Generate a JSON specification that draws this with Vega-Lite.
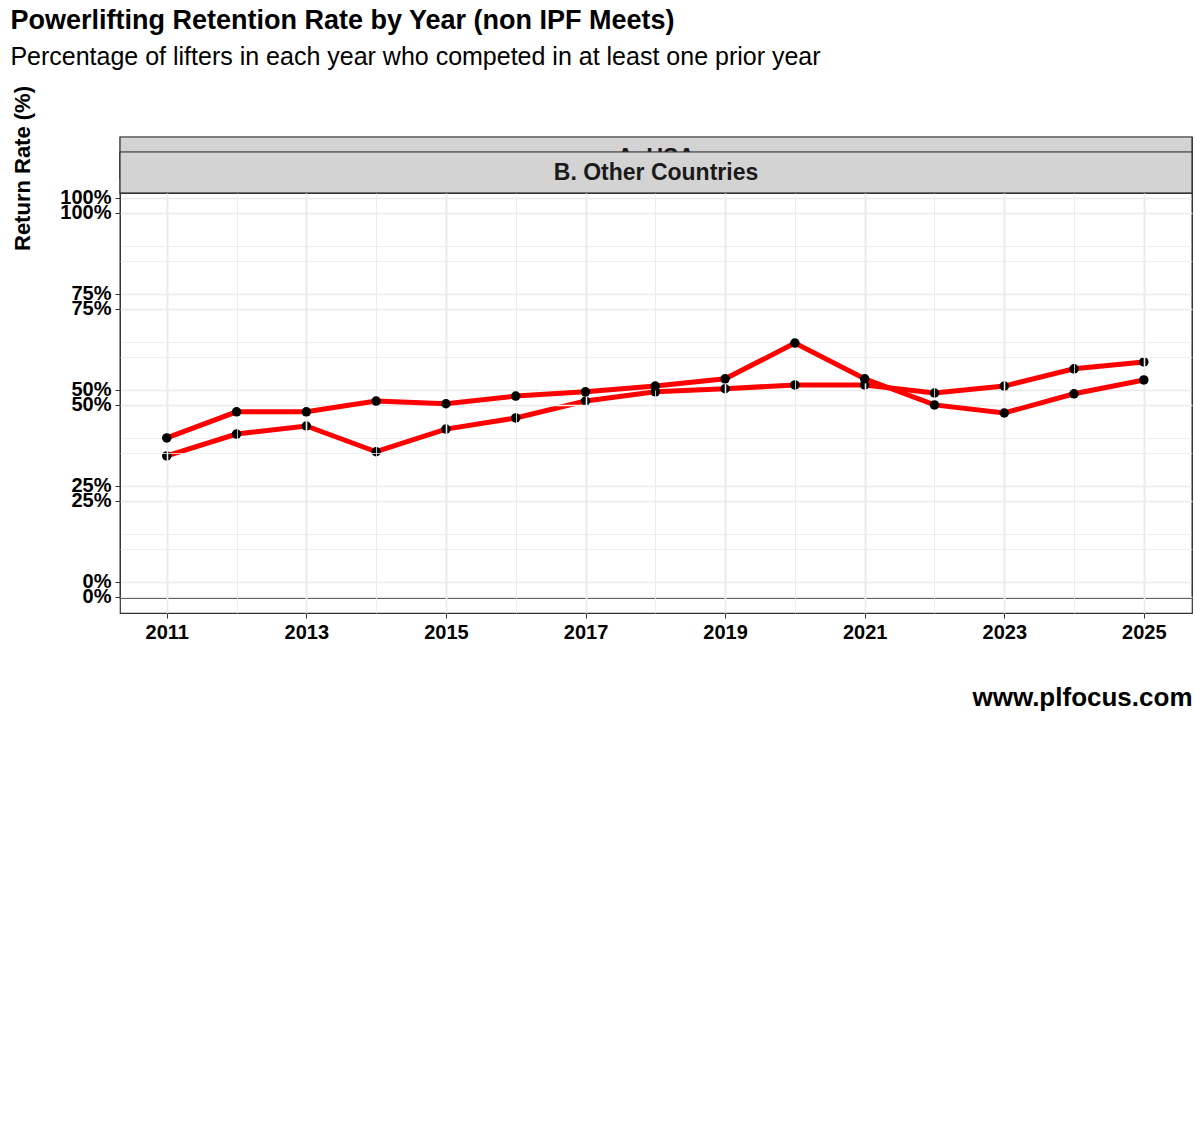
{
"$schema":"https://vega.github.io/schema/vega-lite/v6.json",
"padding":{"left":10,"top":6,"right":12,"bottom":5},
"background":"white",
"bounds":"flush",
"title":{"text":"Powerlifting Retention Rate by Year (non IPF Meets)","subtitle":"Percentage of lifters in each year who competed in at least one prior year","anchor":"start","font":"Liberation Sans","fontSize":27,"fontWeight":"bold","subtitleFont":"Liberation Sans","subtitleFontSize":25,"subtitleColor":"black","subtitlePadding":10,"offset":14},
"datasets":{
"d":[
{"country":"A. USA","year":2011,"rate":32.8},{"country":"A. USA","year":2012,"rate":38.5},{"country":"A. USA","year":2013,"rate":40.6},{"country":"A. USA","year":2014,"rate":33.9},{"country":"A. USA","year":2015,"rate":39.8},{"country":"A. USA","year":2016,"rate":42.7},{"country":"A. USA","year":2017,"rate":47.1},{"country":"A. USA","year":2018,"rate":49.5},{"country":"A. USA","year":2019,"rate":50.3},{"country":"A. USA","year":2020,"rate":51.3},{"country":"A. USA","year":2021,"rate":51.3},{"country":"A. USA","year":2022,"rate":49.2},{"country":"A. USA","year":2023,"rate":51.0},{"country":"A. USA","year":2024,"rate":55.5},{"country":"A. USA","year":2025,"rate":57.3},
{"country":"B. Other Countries","year":2011,"rate":41.4},{"country":"B. Other Countries","year":2012,"rate":48.2},{"country":"B. Other Countries","year":2013,"rate":48.2},{"country":"B. Other Countries","year":2014,"rate":51.0},{"country":"B. Other Countries","year":2015,"rate":50.3},{"country":"B. Other Countries","year":2016,"rate":52.3},{"country":"B. Other Countries","year":2017,"rate":53.4},{"country":"B. Other Countries","year":2018,"rate":54.9},{"country":"B. Other Countries","year":2019,"rate":56.8},{"country":"B. Other Countries","year":2020,"rate":66.1},{"country":"B. Other Countries","year":2021,"rate":56.8},{"country":"B. Other Countries","year":2022,"rate":50.0},{"country":"B. Other Countries","year":2023,"rate":47.9},{"country":"B. Other Countries","year":2024,"rate":52.9},{"country":"B. Other Countries","year":2025,"rate":56.5}
]},
"spacing":15,
"vconcat":[
{"spacing":0,"bounds":"flush","vconcat":[
 {"width":1072,"height":41,"data":{"values":[{"label":"A. USA"}]},
  "layer":[{"mark":{"type":"rect","fill":"#d3d3d3","stroke":"#333333","strokeWidth":1.2},"encoding":{"x":{"value":0},"x2":{"value":1072},"y":{"value":0},"y2":{"value":41}}},
  {"mark":{"type":"text","font":"Liberation Sans","fontSize":23,"fontWeight":"bold","color":"#1a1a1a"},"encoding":{"text":{"field":"label"},"x":{"value":536},"y":{"value":21}}}]},
 {"width":1072,"height":420,"data":{"name":"d"},"transform":[{"filter":"datum.country=='A. USA'"}],
  "layer":[{"mark":{"type":"line","color":"red","strokeWidth":5},"encoding":{}},{"mark":{"type":"circle","color":"black","opacity":1,"size":90},"encoding":{}}],
  "encoding":{
   "x":{"field":"year","type":"quantitative","scale":{"domain":[2010.33,2025.69],"nice":false,"zero":false},
     "axis":{"values":[2011,2012,2013,2014,2015,2016,2017,2018,2019,2020,2021,2022,2023,2024,2025],"labels":false,"ticks":false,"title":null,"domain":false,
       "gridColor":"#ebebeb","gridWidth":{"condition":{"test":"datum.value%2==1","value":1.6},"value":0.8}}},
   "y":{"field":"rate","type":"quantitative","scale":{"domain":[-4.2,105.2],"nice":false,"zero":false},
     "axis":{"values":[0,12.5,25,37.5,50,62.5,75,87.5,100],"title":null,"domain":false,
       "labelExpr":"datum.value%25==0?datum.value+'%':''","labelFont":"Liberation Sans","labelFontSize":20,"labelFontWeight":"bold","labelColor":"black","labelPadding":4,
       "tickColor":{"condition":{"test":"datum.value%25==0","value":"#333333"},"value":"transparent"},"tickSize":5,
       "gridColor":"#ebebeb","gridWidth":{"condition":{"test":"datum.value%25==0","value":1.6},"value":0.8}}}
  }}
]},
{"spacing":0,"bounds":"flush","vconcat":[
 {"width":1072,"height":41,"data":{"values":[{"label":"B. Other Countries"}]},
  "layer":[{"mark":{"type":"rect","fill":"#d3d3d3","stroke":"#333333","strokeWidth":1.2},"encoding":{"x":{"value":0},"x2":{"value":1072},"y":{"value":0},"y2":{"value":41}}},
  {"mark":{"type":"text","font":"Liberation Sans","fontSize":23,"fontWeight":"bold","color":"#1a1a1a"},"encoding":{"text":{"field":"label"},"x":{"value":536},"y":{"value":21}}}]},
 {"width":1072,"height":420,"data":{"name":"d"},"transform":[{"filter":"datum.country=='B. Other Countries'"}],
  "layer":[{"mark":{"type":"line","color":"red","strokeWidth":5},"encoding":{}},{"mark":{"type":"circle","color":"black","opacity":1,"size":90},"encoding":{}}],
  "encoding":{
   "x":{"field":"year","type":"quantitative","scale":{"domain":[2010.33,2025.69],"nice":false,"zero":false},
     "axis":{"values":[2011,2012,2013,2014,2015,2016,2017,2018,2019,2020,2021,2022,2023,2024,2025],"domain":false,
       "labelExpr":"datum.value%2==1?''+datum.value:''","labelFont":"Liberation Sans","labelFontSize":20,"labelFontWeight":"bold","labelColor":"black","labelPadding":4,
       "tickColor":{"condition":{"test":"datum.value%2==1","value":"#333333"},"value":"transparent"},"tickSize":5,
       "title":"www.plfocus.com","titleAnchor":"end","titleFont":"Liberation Sans","titleFontSize":26,"titleFontWeight":"bold","titleColor":"black","titlePadding":42,
       "gridColor":"#ebebeb","gridWidth":{"condition":{"test":"datum.value%2==1","value":1.6},"value":0.8}}},
   "y":{"field":"rate","type":"quantitative","scale":{"domain":[-4.2,105.2],"nice":false,"zero":false},
     "axis":{"values":[0,12.5,25,37.5,50,62.5,75,87.5,100],"domain":false,
       "title":"Return Rate (%)","titleFont":"Liberation Sans","titleFontSize":22,"titleFontWeight":"bold","titleColor":"black","titleY":-25,"titleX":-86,
       "labelExpr":"datum.value%25==0?datum.value+'%':''","labelFont":"Liberation Sans","labelFontSize":20,"labelFontWeight":"bold","labelColor":"black","labelPadding":4,
       "tickColor":{"condition":{"test":"datum.value%25==0","value":"#333333"},"value":"transparent"},"tickSize":5,
       "gridColor":"#ebebeb","gridWidth":{"condition":{"test":"datum.value%25==0","value":1.6},"value":0.8}}}
  }}
]}
],
"config":{"view":{"stroke":"#333333","strokeWidth":1.2}}
}
